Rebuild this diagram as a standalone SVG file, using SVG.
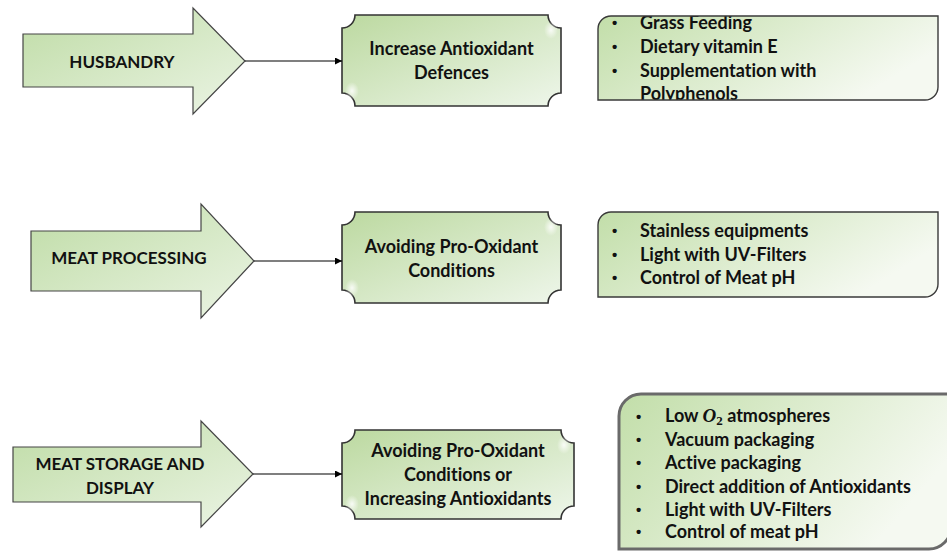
<svg xmlns="http://www.w3.org/2000/svg" width="947" height="552" viewBox="0 0 947 552">
<defs>
<style>
.arrow{stroke:#454545;stroke-width:1.2;fill:url(#gArrow)}
.plaque{stroke:#333;stroke-width:1.6;fill:url(#gPlaque)}
.list{stroke:#3a3a3a;stroke-width:1.4;fill:url(#gList)}
.glow{fill:url(#gGlow)}
.t{font-family:Lato,"Open Sans","Liberation Sans",sans-serif;font-weight:bold;font-size:18px;fill:#111;font-variant-ligatures:none;font-feature-settings:"liga" 0,"clig" 0}
.a{font-size:17px}
.b{font-family:"Liberation Sans",Arial,sans-serif;font-weight:bold;font-size:15px;fill:#111}
.c{text-anchor:middle}
.conn{stroke:#000;stroke-width:1.2;fill:none}
</style>
<linearGradient id="gArrow" x1="0" y1="0" x2="1" y2="1">
<stop offset="0" stop-color="#bfdca6"/>
<stop offset="1" stop-color="#ebf4e4"/>
</linearGradient>
<linearGradient id="gPlaque" x1="0" y1="0" x2="1" y2="1">
<stop offset="0" stop-color="#bcd9a0"/>
<stop offset="1" stop-color="#eef6ea"/>
</linearGradient>
<linearGradient id="gList" x1="0" y1="0" x2="1" y2="0.4">
<stop offset="0" stop-color="#c2dea9"/>
<stop offset="1" stop-color="#f5f9f1"/>
</linearGradient>
<radialGradient id="gGlow">
<stop offset="0" stop-color="#ffffff" stop-opacity="0.85"/>
<stop offset="1" stop-color="#ffffff" stop-opacity="0"/>
</radialGradient>
<marker id="ah" viewBox="0 0 10 10" refX="10" refY="5" markerWidth="7" markerHeight="7" markerUnits="userSpaceOnUse" orient="auto">
<path d="M0,0 L10,5 L0,10 Z" fill="#000"/>
</marker>
<clipPath id="clip1"><rect x="598" y="16" width="340" height="84"/></clipPath>
</defs>

<g id="arrow-husbandry">
<path class="arrow" d="M23,34 H193 V8 L245,61 L193,114 V87 H23 Z"/>
<text class="t a c" x="122" y="68">HUSBANDRY</text>
</g>
<g id="arrow-meat-processing">
<path class="arrow" d="M31,231 H201 V204 L254,261 L201,318 V291 H31 Z"/>
<text class="t a c" x="129" y="264">MEAT PROCESSING</text>
</g>
<g id="arrow-meat-storage">
<path class="arrow" d="M13,447 H201 V421 L253,474 L201,527 V502 H13 Z"/>
<text class="t a c" x="120" y="470">MEAT STORAGE AND</text>
<text class="t a c" x="120" y="494">DISPLAY</text>
</g>

<g id="box-increase">
<path class="plaque" d="M355,15 H548 A13,13 0 0 0 561,28 V93 A13,13 0 0 0 548,106 H355 A13,13 0 0 0 342,93 V28 A13,13 0 0 0 355,15 Z"/>
<ellipse class="glow" cx="551" cy="30" rx="7" ry="9"/>
<ellipse class="glow" cx="352" cy="91" rx="7" ry="9"/>
<text class="t c" x="451.5" y="54.5">Increase Antioxidant</text>
<text class="t c" x="451.5" y="78.5">Defences</text>
</g>
<g id="box-avoid1">
<path class="plaque" d="M355,212 H548 A13,13 0 0 0 561,225 V290 A13,13 0 0 0 548,303 H355 A13,13 0 0 0 342,290 V225 A13,13 0 0 0 355,212 Z"/>
<ellipse class="glow" cx="551" cy="227" rx="7" ry="9"/>
<ellipse class="glow" cx="352" cy="288" rx="7" ry="9"/>
<text class="t c" x="451.5" y="253">Avoiding Pro-Oxidant</text>
<text class="t c" x="451.5" y="277">Conditions</text>
</g>
<g id="box-avoid2">
<path class="plaque" d="M355,430 H561 A13,13 0 0 0 574,443 V506 A13,13 0 0 0 561,519 H355 A13,13 0 0 0 342,506 V443 A13,13 0 0 0 355,430 Z"/>
<ellipse class="glow" cx="564" cy="445" rx="7" ry="9"/>
<ellipse class="glow" cx="352" cy="504" rx="7" ry="9"/>
<text class="t c" x="458" y="457">Avoiding Pro-Oxidant</text>
<text class="t c" x="458" y="481">Conditions or</text>
<text class="t c" x="458" y="505">Increasing Antioxidants</text>
</g>

<g id="list-husbandry">
<path d="M611,16 H938 V87 A13,13 0 0 1 925,100 H598 V29 A13,13 0 0 1 611,16 Z" fill="url(#gList)" stroke="none"/>
<g clip-path="url(#clip1)">
<text class="b" x="612" y="28">•</text><text class="t" x="640" y="29">Grass Feeding</text>
<text class="b" x="612" y="52">•</text><text class="t" x="640" y="53">Dietary vitamin E</text>
<text class="b" x="612" y="76">•</text><text class="t" x="640" y="77">Supplementation with</text>
<text class="t" x="640" y="100">Polyphenols</text>
</g>
<path d="M611,16 H938 V87 A13,13 0 0 1 925,100 H598 V29 A13,13 0 0 1 611,16 Z" fill="none" stroke="#3a3a3a" stroke-width="1.4"/>
</g>

<g id="list-processing">
<path class="list" d="M611,212 H938 V284 A13,13 0 0 1 925,297 H598 V225 A13,13 0 0 1 611,212 Z"/>
<text class="b" x="612" y="236">•</text><text class="t" x="640" y="237">Stainless equipments</text>
<text class="b" x="612" y="259.5">•</text><text class="t" x="640" y="260.5">Light with UV-Filters</text>
<text class="b" x="612" y="283">•</text><text class="t" x="640" y="284">Control of Meat pH</text>
</g>

<g id="list-storage">
<path d="M641,394 H951 V527 A22,22 0 0 1 929,549 H619 V416 A22,22 0 0 1 641,394 Z" fill="url(#gList)" stroke="#6a6a6a" stroke-width="3"/>
<text class="b" x="636" y="421.5">•</text><text class="t" x="665" y="422">Low <tspan font-family="'Liberation Serif',serif" font-style="italic" font-size="19">O</tspan><tspan font-family="'Liberation Serif',serif" font-size="13" dy="3">2</tspan><tspan dy="-3"> atmospheres</tspan></text>
<text class="b" x="636" y="444.5">•</text><text class="t" x="665" y="445.5">Vacuum packaging</text>
<text class="b" x="636" y="468">•</text><text class="t" x="665" y="469">Active packaging</text>
<text class="b" x="636" y="491.5">•</text><text class="t" x="665" y="492.5">Direct addition of Antioxidants</text>
<text class="b" x="636" y="514.5">•</text><text class="t" x="665" y="515.5">Light with UV-Filters</text>
<text class="b" x="636" y="537">•</text><text class="t" x="665" y="538">Control of meat pH</text>
</g>

<g id="connectors">
<line class="conn" x1="245" y1="61" x2="342" y2="61" marker-end="url(#ah)"/>
<line class="conn" x1="254" y1="261" x2="342" y2="261" marker-end="url(#ah)"/>
<line class="conn" x1="253" y1="474" x2="342" y2="474" marker-end="url(#ah)"/>
</g>
</svg>
